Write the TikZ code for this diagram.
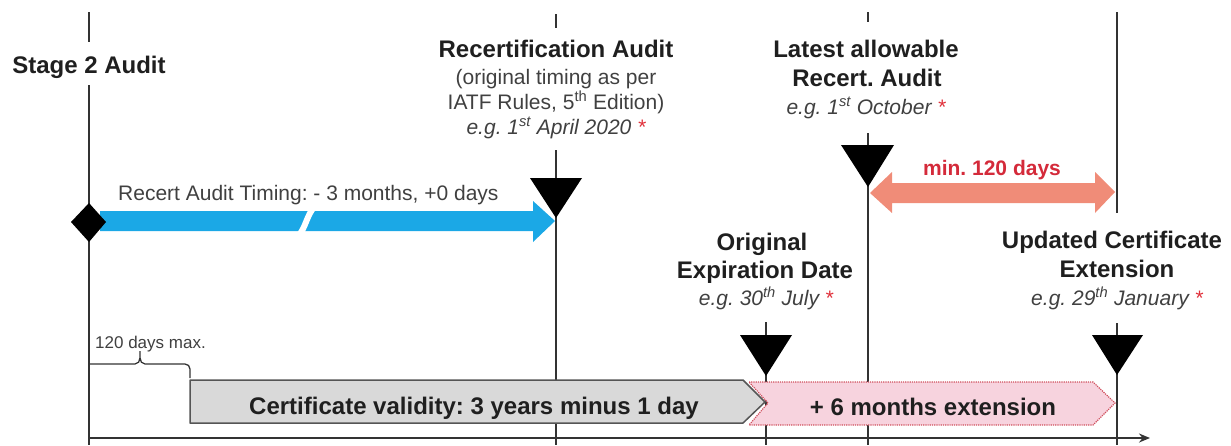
\documentclass[tikz,border=0pt]{standalone}
\usepackage{fontspec}
\setmainfont{Liberation Sans}
\usetikzlibrary{arrows.meta}
\definecolor{ln}{HTML}{333333}
\definecolor{txt}{HTML}{1F1F1F}
\definecolor{subc}{HTML}{404040}
\definecolor{ast}{HTML}{E0303A}
\definecolor{blu}{HTML}{1BA8E6}
\definecolor{sal}{HTML}{F08C78}
\definecolor{minred}{HTML}{D42A3A}
\definecolor{gbox}{HTML}{D9D9D9}
\definecolor{gedge}{HTML}{555555}
\definecolor{pbox}{HTML}{F7D3DE}
\definecolor{pedge}{HTML}{D0505E}
\frenchspacing
\begin{document}
\begin{tikzpicture}[x=1pt,y=-1pt,
  vline/.style={draw=ln, line width=2pt},
  headtxt/.style={font=\fontsize{24}{28}\selectfont\bfseries, text=txt, inner sep=0pt, anchor=base},
  subtxt/.style={font=\fontsize{21}{25}\selectfont, text=subc, inner sep=0pt, anchor=base},
  extxt/.style={font=\fontsize{21}{25}\selectfont\itshape, text=subc, inner sep=0pt, anchor=base},
  marker/.style={fill=black},
  bracestyle/.style={draw=ln, line width=1.3pt},
]
\useasboundingbox (0,0) rectangle (1231,445);

% vertical timeline lines
\draw[vline] (89,12) -- (89,42);
\draw[vline] (89,85) -- (89,445);
\draw[vline] (556,14) -- (556,28);
\draw[vline] (556,150) -- (556,445);
\draw[vline] (868,12) -- (868,22);
\draw[vline] (868,133) -- (868,445);
\draw[vline] (766,322) -- (766,445);
\draw[vline] (1117,12) -- (1117,213);
\draw[vline] (1117,323) -- (1117,445);

% axis
\coordinate (ax0) at (89,438);
\coordinate (ax1) at (1150,438);
\draw[draw=ln, line width=2pt, -{Stealth[length=11pt,width=9pt]}] (ax0) -- (ax1);

% blue arrow
\fill[blu] (100,211) -- (533,211) -- (533,201) -- (555,221) -- (533,242) -- (533,231) -- (100,231) -- cycle;
\draw[white, line width=6pt] (298,236) .. controls (306,228) and (306,216) .. (315,206);

% salmon double arrow
\fill[sal] (870,193) -- (892,172) -- (892,183) -- (1095,183) -- (1095,172) -- (1115,192) -- (1095,213) -- (1095,203) -- (892,203) -- (892,213) -- cycle;

% markers
\fill[marker] (71,222) -- (89,203) -- (106,222) -- (89,242) -- cycle;
\fill[marker] (530,178) -- (582,178) -- (556,218) -- cycle;
\fill[marker] (841,145) -- (894,145) -- (868,187) -- cycle;
\fill[marker] (740,335) -- (792,335) -- (766,376) -- cycle;
\fill[marker] (1092,335) -- (1143,335) -- (1117,375) -- cycle;

% headings
\node[headtxt] (s2) at (89,73) {Stage 2 Audit};
\node[headtxt] (rc) at (556,57) {Recertification Audit};
\node[subtxt] (rc1) at (556,84) {(original timing as per};
\node[subtxt] (rc2) at (556,109) {IATF Rules, 5\textsuperscript{th} Edition)};
\node[extxt] (rc3) at (556,134) {e.g. 1\textsuperscript{st} April 2020 \textcolor{ast}{*}};

\node[headtxt] (la) at (866,57) {Latest allowable};
\node[headtxt] (la1) at (867,86) {Recert. Audit};
\node[extxt] (la2) at (866,114) {e.g. 1\textsuperscript{st} October \textcolor{ast}{*}};

\node[headtxt] (oe) at (762,250) {Original};
\node[headtxt] (oe1) at (765,278) {Expiration Date};
\node[extxt] (oe2) at (766,305) {e.g. 30\textsuperscript{th} July \textcolor{ast}{*}};

\node[headtxt] (uc) at (1112,248) {Updated Certificate};
\node[headtxt] (uc1) at (1117,277) {Extension};
\node[extxt] (uc2) at (1117,305) {e.g. 29\textsuperscript{th} January \textcolor{ast}{*}};

% arrow labels
\node[subtxt, anchor=base west] (rat) at (118,200) {Recert Audit Timing: - 3 months, +0 days};
\node[font=\fontsize{21}{25}\selectfont\bfseries, text=minred, inner sep=0pt, anchor=base] (m120) at (992,175) {min. 120 days};

% brace
\draw[bracestyle] (89,364) -- (135,364) to[out=0,in=-90] (140,358) -- (140,351);
\draw[bracestyle] (140,358) to[out=-90,in=180] (145,364) -- (185,364) to[out=0,in=90] (190,369) -- (190,378);
\node[font=\fontsize{17}{20}\selectfont, text=subc, inner sep=0pt, anchor=base west] (d120) at (95,348) {120 days max.};

% certificate boxes
\draw[fill=gbox, draw=gedge, line width=1.5pt, line join=round] (190,380) -- (743,380) -- (765,402) -- (743,423) -- (190,423) -- cycle;
\node[headtxt] (cv) at (474,414) {Certificate validity: 3 years minus 1 day};
\draw[fill=pbox, draw=pedge, line width=1.2pt, densely dotted] (749,382) -- (1093,382) -- (1115,403) -- (1093,425) -- (749,425) -- (768,403) -- cycle;
\node[headtxt] (ext) at (933,415) {+ 6 months extension};
\end{tikzpicture}
\end{document}
